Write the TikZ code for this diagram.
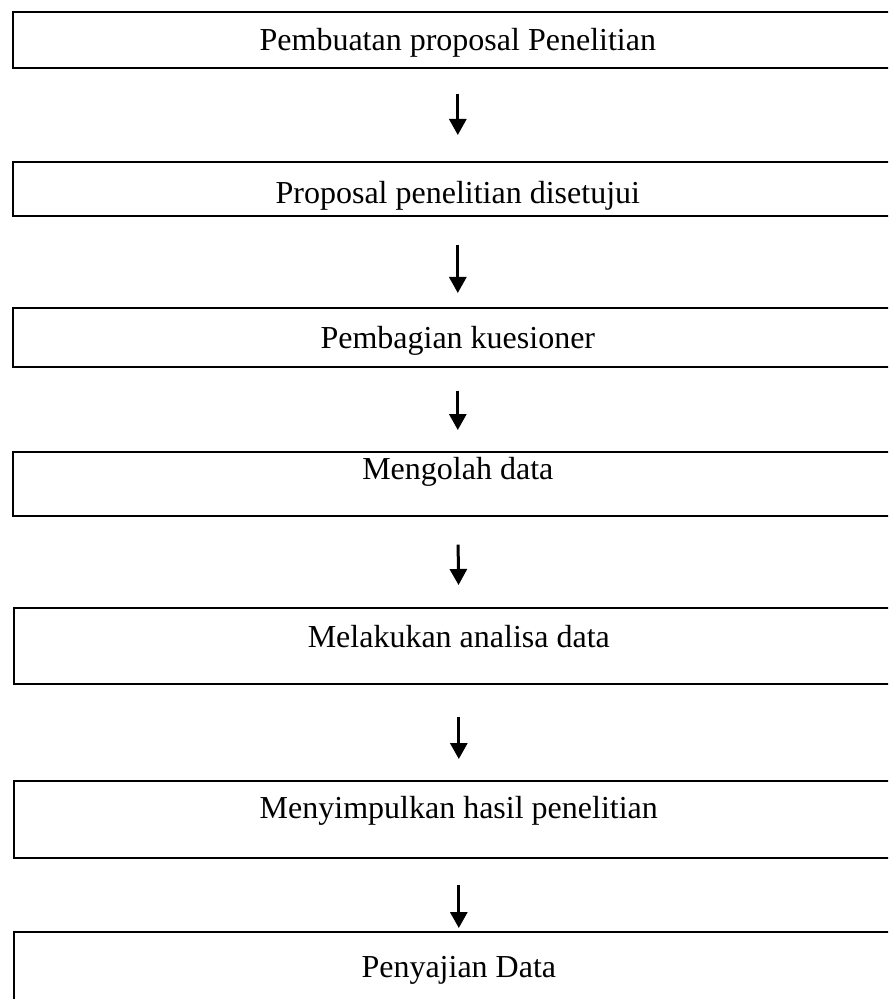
\documentclass[tikz,border=0pt]{standalone}
\usepackage{fontspec}
\setmainfont{Liberation Serif}
\usetikzlibrary{arrows.meta}

\begin{document}
\begin{tikzpicture}[x=0.5pt, y=-0.5pt,
  every node/.style={font=\fontsize{16}{19}\selectfont},
  stage/.style={draw, line width=0.8pt, inner sep=0pt, anchor=north west,
    minimum width=445pt, align=center},
  flow/.style={-{Triangle[width=8.5pt, length=8pt]}, line width=1.5pt}]
  \useasboundingbox (0,0) rectangle (888,999);
  \clip (0,0) rectangle (888,999);

  \node[stage, text height=19.5pt, text depth=8.5pt] (proposal) at (12,11) {Pembuatan proposal Penelitian};
  \node[stage, text height=21pt, text depth=6pt] (setuju) at (12,161) {Proposal penelitian disetujui};
  \node[stage, text height=20.5pt, text depth=9pt] (kuesioner) at (12,307) {Pembagian kuesioner};
  \node[stage, text height=14pt, text depth=18pt] (olah) at (12,451) {Mengolah data};
  \node[stage, text height=20pt, text depth=18pt] (analisa) at (13,607) {Melakukan analisa data};
  \node[stage, text height=19pt, text depth=19.5pt] (simpul) at (13,780) {Menyimpulkan hasil penelitian};
  \node[stage, text height=23pt, text depth=16.5pt] (saji) at (13,931) {Penyajian Data};

  \draw[flow, shorten <=12.5pt, shorten >=13pt] (proposal.south) -- (setuju.north);
  \draw[flow, shorten <=14pt, shorten >=7pt] (setuju.south) -- (kuesioner.north);
  \draw[flow, shorten <=11.5pt, shorten >=10.5pt] (kuesioner.south) -- (olah.north);
  \draw[flow, shorten <=14pt, shorten >=11pt] (olah.south) -- (analisa.north);
  \draw[flow, shorten <=16pt, shorten >=10.5pt] (analisa.south) -- (simpul.north);
  \draw[flow, shorten <=13pt, shorten >=1.5pt] (simpul.south) -- (saji.north);
\end{tikzpicture}
\end{document}
